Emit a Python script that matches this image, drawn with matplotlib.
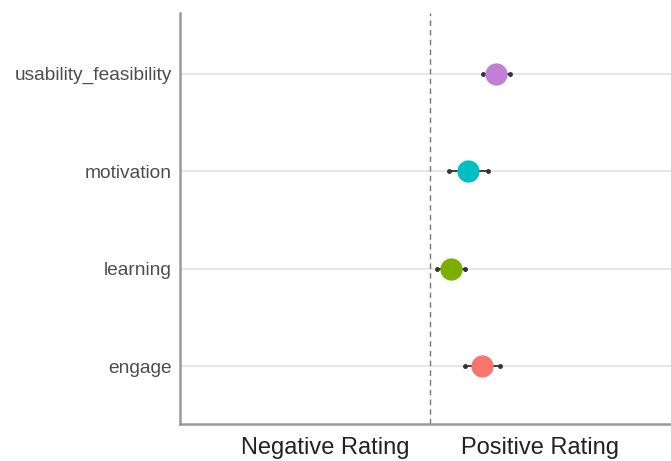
import matplotlib
matplotlib.use("Agg")
import matplotlib.pyplot as plt

categories = ["engage", "learning", "motivation", "usability_feasibility"]
means = [0.208, 0.084, 0.152, 0.264]
errors = [0.070, 0.056, 0.078, 0.054]
colors = ["#F8766D", "#7CAE00", "#00BFC4", "#C27FD6"]
xtick_labels = ["Negative Rating", "Positive Rating"]
xtick_pos = [-0.42, 0.44]

plt.rcParams['font.family'] = ['Liberation Sans', 'DejaVu Sans']

fig = plt.figure(figsize=(6.71, 4.61), dpi=100)
ax = fig.add_axes([180/671, 37/461, (671-180)/671, (424-13)/461])

ypos = list(range(1, len(categories) + 1))
for y in ypos:
    ax.axhline(y, color="#e3e3e3", lw=1.2, zorder=0)
ax.axvline(0, color="#777777", lw=1.0, ls=(0, (4, 3)), zorder=1)

for y, m, e, c in zip(ypos, means, errors, colors):
    ax.errorbar(m, y, xerr=e, fmt='none', ecolor="#333333", elinewidth=1.3,
                capsize=0, zorder=2)
    ax.plot([m - e, m + e], [y, y], 'o', color="#333333", ms=2.5, zorder=2)
    ax.plot(m, y, 'o', color=c, ms=16, mec='none', zorder=3)

ax.set_xlim(-1, (671-430)/250)
ax.set_ylim(0.41, 4.62)
ax.set_yticks(ypos)
ax.set_yticklabels(categories, fontsize=13.8, color="#4d4d4d")
ax.set_xticks(xtick_pos)
ax.set_xticklabels(xtick_labels, fontsize=17, color="#222222")
ax.tick_params(axis='y', length=0, pad=6)
ax.tick_params(axis='x', length=0, pad=9)

for s in ["top", "right"]:
    ax.spines[s].set_visible(False)
for s in ["left", "bottom"]:
    ax.spines[s].set_color("#999999")
    ax.spines[s].set_linewidth(1.8)

fig.savefig("out.png", dpi=100)
